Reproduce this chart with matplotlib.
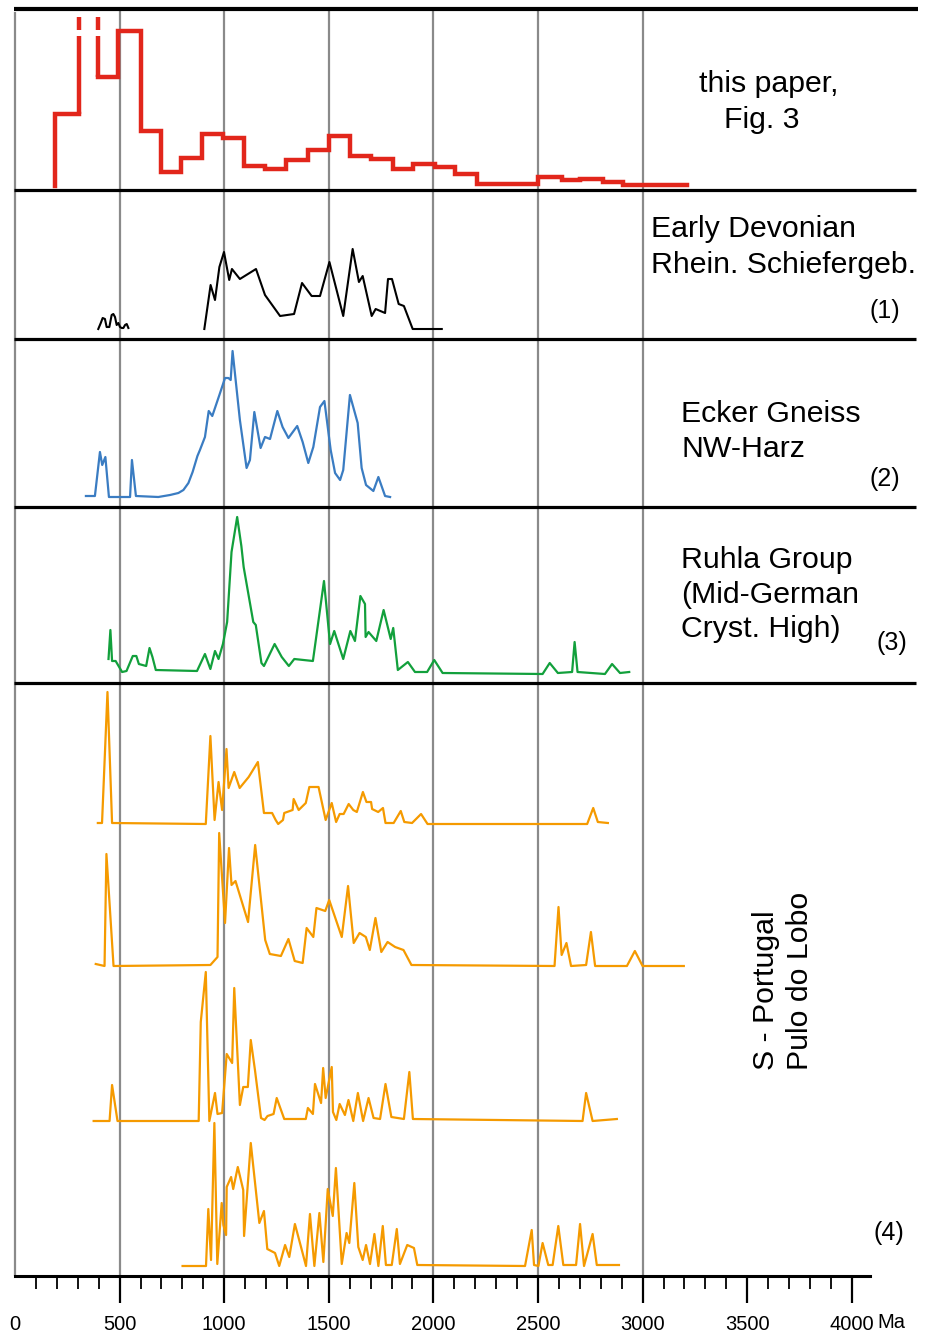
import numpy as np
import matplotlib
matplotlib.use("Agg")
import matplotlib.pyplot as plt

plt.rcParams['font.family'] = ['Liberation Sans', 'DejaVu Sans']

# --- detrital zircon age data (Ma) and relative frequencies ---

# this paper, Fig. 3: histogram bins (second bin is off-scale)
hist_edges = [191, 306, 396, 494, 600, 697, 795, 893, 995, 1096, 1196, 1294, 1401,
              1503, 1601, 1704, 1806, 1902, 2009, 2105, 2207, 2500, 2613, 2700,
              2809, 2905, 3210]
hist_counts = [76, np.nan, 113, 159, 59, 18, 32, 56, 52, 24, 21, 30, 40, 54, 34,
               31, 21, 26, 23, 16, 6, 13, 10, 11, 8, 5]
hist_start = 4

# (1) Early Devonian, Rhein. Schiefergebirge
rs_young_age = [398, 410, 419, 430, 438, 451, 462, 470, 478, 486, 494, 502, 510,
                518, 526, 534, 542]
rs_young_val = [10, 16, 21, 20, 12, 12, 24, 25, 22, 14, 16, 12, 11, 11, 14, 15, 11]
rs_age = [905, 935, 956, 977, 999, 1024, 1037, 1075, 1152, 1195, 1267, 1334, 1372,
          1418, 1458, 1503, 1569, 1614, 1644, 1662, 1705, 1724, 1769, 1783, 1802,
          1834, 1859, 1901, 2040]
rs_val = [10, 54, 39, 72, 87, 59, 70, 60, 70, 44, 23, 25, 56, 43, 43, 77, 23, 90,
          57, 63, 23, 30, 26, 60, 60, 35, 33, 10, 10]

# (2) Ecker Gneiss, NW-Harz
eg_age = [339, 382, 406, 417, 432, 449, 494, 550, 559, 578, 685, 741, 781, 805, 829,
          849, 872, 884, 908, 926, 943, 977, 1004, 1020, 1031, 1040, 1075, 1107, 1123,
          1144, 1174, 1195, 1219, 1254, 1279, 1307, 1349, 1375, 1402, 1426, 1458,
          1479, 1509, 1530, 1554, 1569, 1601, 1638, 1657, 1678, 1713, 1737, 1769, 1793]
eg_val = [11, 11, 55, 42, 50, 10, 10, 10, 47, 11, 10, 12, 14, 17, 24, 35, 51, 57, 70,
          96, 91, 112, 129, 129, 127, 156, 87, 39, 47, 95, 59, 70, 68, 96, 80, 69, 81,
          65, 44, 60, 100, 106, 57, 34, 27, 37, 112, 84, 39, 22, 16, 30, 11, 10]

# (3) Ruhla Group, Mid-German Crystalline High
rg_age = [447, 456, 464, 481, 512, 533, 563, 580, 592, 627, 643, 657, 673, 870, 908,
          934, 956, 973, 994, 1014, 1035, 1062, 1082, 1093, 1139, 1151, 1178, 1190,
          1241, 1275, 1309, 1335, 1424, 1477, 1506, 1526, 1569, 1603, 1625, 1651, 1673,
          1676, 1690, 1727, 1762, 1796, 1808, 1830, 1878, 1912, 1970, 2004, 2044, 2522,
          2556, 2595, 2663, 2675, 2689, 2820, 2854, 2892, 2936]
rg_val = [24, 53, 22, 22, 11, 12, 27, 27, 19, 17, 35, 26, 13, 12, 29, 14, 32, 24, 39,
          61, 131, 166, 137, 116, 61, 58, 20, 17, 39, 26, 17, 24, 22, 102, 39, 52, 24,
          52, 42, 87, 79, 46, 51, 42, 73, 44, 55, 13, 21, 11, 11, 23, 10, 9, 20, 10,
          11, 41, 11, 9, 19, 10, 11]

# (4) S-Portugal, Pulo do Lobo: four samples, top to bottom
pl_a_age = [396, 416, 442, 464, 912, 934, 954, 973, 990, 1011, 1021, 1048, 1074, 1117,
            1161, 1190, 1229, 1246, 1258, 1281, 1287, 1327, 1332, 1356, 1390, 1407,
            1451, 1485, 1514, 1535, 1552, 1571, 1595, 1617, 1634, 1663, 1680, 1702,
            1707, 1736, 1759, 1771, 1810, 1844, 1861, 1898, 1941, 1972, 2735, 2764,
            2786, 2834]
pl_a_val = [1, 1, 132, 1, 0, 88, 4, 42, 14, 75, 36, 52, 36, 47, 62, 11, 11, 4, 0, 4,
            11, 14, 25, 14, 21, 37, 37, 4, 21, 2, 10, 10, 20, 14, 12, 32, 22, 22, 15,
            12, 16, 1, 1, 13, 2, 1, 10, 0, 0, 16, 2, 1]
pl_b_age = [386, 428, 437, 471, 934, 968, 976, 1004, 1023, 1035, 1054, 1114, 1148, 1196,
            1218, 1271, 1307, 1337, 1375, 1394, 1426, 1441, 1483, 1502, 1562, 1592,
            1619, 1647, 1677, 1696, 1723, 1751, 1781, 1817, 1857, 1895, 2579, 2598,
            2613, 2636, 2658, 2730, 2753, 2773, 2925, 2963, 3000, 3197]
pl_b_val = [2, 0, 112, 0, 1, 9, 133, 43, 118, 81, 85, 44, 121, 26, 12, 10, 27, 5, 3, 38,
            29, 58, 55, 66, 29, 80, 23, 33, 29, 16, 48, 14, 24, 19, 16, 1, 0, 59, 11,
            23, 0, 1, 34, 0, 0, 15, 0, 0]
pl_c_age = [376, 452, 464, 490, 878, 888, 912, 929, 956, 968, 990, 1012, 1038, 1048,
            1075, 1091, 1113, 1127, 1147, 1176, 1193, 1207, 1236, 1251, 1287, 1390,
            1400, 1424, 1434, 1463, 1473, 1485, 1514, 1520, 1536, 1552, 1577, 1594,
            1617, 1639, 1664, 1690, 1714, 1745, 1771, 1799, 1859, 1885, 1902, 2713,
            2730, 2761, 2877]
pl_c_val = [0, 0, 36, 0, 0, 99, 149, 0, 28, 7, 8, 67, 58, 133, 16, 34, 34, 81, 51, 3,
            1, 5, 7, 23, 2, 2, 13, 7, 37, 18, 53, 23, 54, 9, 1, 17, 6, 21, 0, 28, 0,
            23, 3, 2, 37, 4, 2, 49, 2, 0, 28, 0, 2]
pl_d_age = [801, 913, 924, 937, 953, 967, 988, 996, 1009, 1012, 1033, 1043, 1065, 1091,
            1095, 1127, 1168, 1190, 1206, 1243, 1263, 1291, 1311, 1338, 1366, 1391,
            1410, 1431, 1455, 1474, 1495, 1519, 1534, 1562, 1585, 1598, 1622, 1641,
            1662, 1678, 1697, 1718, 1737, 1758, 1773, 1801, 1825, 1840, 1875, 1907,
            1923, 2438, 2470, 2481, 2502, 2522, 2549, 2570, 2597, 2621, 2682, 2701,
            2720, 2761, 2781, 2887]
pl_d_val = [0, 0, 57, 6, 143, 2, 63, 41, 31, 79, 89, 77, 99, 76, 30, 123, 43, 55, 17,
            13, 0, 21, 9, 42, 20, 0, 52, 0, 53, 4, 77, 50, 98, 2, 33, 23, 83, 19, 6,
            21, 2, 32, 0, 40, 1, 1, 37, 2, 21, 18, 1, 0, 36, 1, 0, 23, 1, 1, 40, 1, 1,
            42, 0, 32, 1, 1]

age_ticks = list(range(0, 4001, 500))
age_minor = list(range(100, 4000, 100))

# --- layout (pixels) ---
W, H = 931, 1332
PX_PER_MA = 0.2092
X0_PX = 15
XLIM = (-X0_PX / PX_PER_MA, (W - X0_PX) / PX_PER_MA)
SEPARATORS = [190, 339, 507, 683]
AXIS_Y = 1276
GREY = '#8a8a8a'
RED = '#e2261b'
BLUE = '#3a7cc2'
GREEN = '#12a03c'
ORANGE = '#f59a00'


def px_to_ma(px):
    return (px - X0_PX) / PX_PER_MA


fig = plt.figure(figsize=(W / 100, H / 100), dpi=100)
bg = fig.add_axes([0, 0, 1, 1])
bg.set_xlim(*XLIM)
bg.set_ylim(H, 0)
bg.axis('off')


def band(top, bottom):
    ax = fig.add_axes([0, 1 - bottom / H, 1, (bottom - top) / H])
    ax.set_xlim(*XLIM)
    ax.set_ylim(0, bottom - top)
    ax.patch.set_visible(False)
    ax.axis('off')
    return ax


# grid of age lines and panel frames
bg.vlines([t for t in age_ticks if 0 < t <= 3000], 9, AXIS_Y, color=GREY, lw=1.6, zorder=1)
bg.vlines([0], 12, AXIS_Y, color=GREY, lw=1.6, zorder=1)
bg.hlines([9], px_to_ma(14), px_to_ma(918), color='black', lw=3.0, zorder=2)
bg.hlines(SEPARATORS, px_to_ma(14), px_to_ma(916), color='black', lw=2.3, zorder=2)

# panel: this paper (step histogram)
ax1 = band(9, 190)
xs = np.concatenate([[hist_edges[0]], np.repeat(hist_edges, 2)[1:-1]])
ys = np.concatenate([[hist_start], np.repeat(hist_counts, 2)])
ax1.plot(xs, ys, color=RED, lw=3.2, solid_joinstyle='miter', clip_on=False)
# off-scale bin drawn as broken bars
for edge, low in [(hist_edges[1], hist_counts[0]), (hist_edges[2], hist_counts[2])]:
    ax1.plot([edge, edge], [low, 154], color=RED, lw=3.2, solid_capstyle='butt')
    ax1.plot([edge, edge], [160, 173], color=RED, lw=3.2, solid_capstyle='butt')

# panel (1)
ax2 = band(190, 339)
ax2.plot(rs_young_age, rs_young_val, color='black', lw=1.5)
ax2.plot(rs_age, rs_val, color='black', lw=1.5)

# panel (2)
ax3 = band(339, 507)
ax3.plot(eg_age, eg_val, color=BLUE, lw=1.6, clip_on=False)

# panel (3)
ax4 = band(507, 683)
ax4.plot(rg_age, rg_val, color=GREEN, lw=1.6, clip_on=False)

# panel (4): stacked samples plus the age axis
ax5 = band(683, AXIS_Y)
offsets = [452, 310, 155, 10]
samples = [(pl_a_age, pl_a_val), (pl_b_age, pl_b_val),
           (pl_c_age, pl_c_val), (pl_d_age, pl_d_val)]
for off, (age, val) in zip(offsets, samples):
    ax5.plot(age, np.asarray(val) + off, color=ORANGE, lw=1.6, clip_on=False)

ax5.axis('on')
for side in ['top', 'left', 'right']:
    ax5.spines[side].set_visible(False)
ax5.spines['bottom'].set_bounds(0, px_to_ma(870))
ax5.spines['bottom'].set_linewidth(2.2)
ax5.set_yticks([])
ax5.set_xticks(age_ticks)
ax5.set_xticks(age_minor, minor=True)
ax5.set_xticklabels([str(t) for t in age_ticks])
ax5.tick_params(axis='x', which='major', length=19.4, width=1.6, pad=9, labelsize=14.5)
ax5.tick_params(axis='x', which='minor', length=9.4, width=1.3, color='black')
for t, tick in zip(age_ticks, ax5.xaxis.get_major_ticks()):
    if t == 0:
        tick.tick1line.set_visible(False)
    elif t <= 3000:
        tick.tick1line.set_color(GREY)
    else:
        tick.tick1line.set_color('black')
bg.text(px_to_ma(877), 1328, 'Ma', fontsize=14.5, ha='left', va='baseline')

# panel labels
FS = 21.8
labels = [
    (769, 92, 'this paper,', 'center'),
    (762, 128, 'Fig. 3', 'center'),
    (651, 237, 'Early Devonian', 'left'),
    (651, 273, 'Rhein. Schiefergeb.', 'left'),
    (681, 422, 'Ecker Gneiss', 'left'),
    (681, 457, 'NW-Harz', 'left'),
    (681, 568, 'Ruhla Group', 'left'),
    (681, 603, '(Mid-German', 'left'),
    (681, 637, 'Cryst. High)', 'left'),
]
for x, y, s, ha in labels:
    bg.text(px_to_ma(x), y, s, fontsize=FS, ha=ha, va='baseline')

numbers = [(900, 318, '(1)'), (900, 486, '(2)'), (907, 650, '(3)'), (904, 1240, '(4)')]
for x, y, s in numbers:
    bg.text(px_to_ma(x), y, s, fontsize=18, ha='right', va='baseline')

bg.text(px_to_ma(783), 1070, 'S - Portugal\nPulo do Lobo', fontsize=FS, rotation=90,
        ha='center', va='bottom', multialignment='left', linespacing=1.25)

fig.savefig('out.png', dpi=100)
